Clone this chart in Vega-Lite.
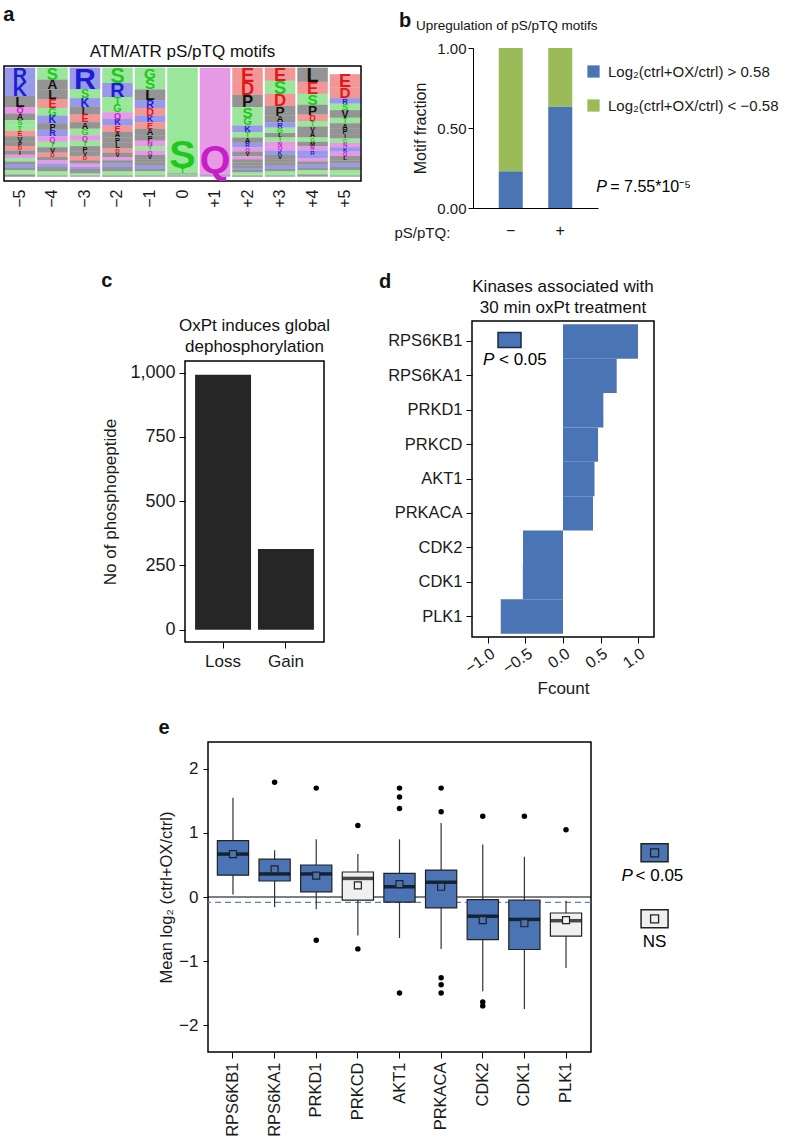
{
"$schema":"https://vega.github.io/schema/vega-lite/v6.json",
"background":"white",
"padding":{"left":3,"top":5,"right":0,"bottom":0},
"config":{
 "font":"Liberation Sans",
 "view":{"stroke":null},
 "axis":{"grid":false,"domainColor":"black","tickColor":"black","labelColor":"#1a1a1a","titleColor":"#1a1a1a","titleFontWeight":"normal","labelFont":"Liberation Sans","titleFont":"Liberation Sans","labelFontSize":16,"titleFontSize":16,"tickSize":6,"labelOverlap":false},
 "title":{"font":"Liberation Sans","subtitleFont":"Liberation Sans","color":"#111","subtitleColor":"#111"},
 "legend":{"labelFont":"Liberation Sans","labelColor":"#1a1a1a","padding":0}
},
"datasets":{
 "logo":[
{"pos":"−5","aa":"R","h":13,"r":1},{"pos":"−5","aa":"K","h":13,"r":2},{"pos":"−5","aa":"L","h":10,"r":3},{"pos":"−5","aa":"Q","h":6,"r":4},{"pos":"−5","aa":"A","h":6,"r":5},{"pos":"−5","aa":"S","h":5,"r":6},{"pos":"−5","aa":"T","h":5,"r":7},{"pos":"−5","aa":"E","h":5,"r":8},{"pos":"−5","aa":"V","h":5,"r":9},{"pos":"−5","aa":"P","h":4,"r":10},{"pos":"−5","aa":"D","h":4,"r":11},{"pos":"−5","aa":"I","h":4,"r":12},{"pos":"−5","aa":"N","h":3,"r":13},{"pos":"−5","aa":"G","h":3,"r":14},{"pos":"−5","aa":"M","h":3,"r":15},{"pos":"−5","aa":"H","h":3,"r":16},{"pos":"−5","aa":"F","h":2,"r":17},{"pos":"−5","aa":"Y","h":2,"r":18},{"pos":"−5","aa":"C","h":2,"r":19},{"pos":"−5","aa":"W","h":2,"r":20},
{"pos":"−4","aa":"S","h":11,"r":1},{"pos":"−4","aa":"A","h":9,"r":2},{"pos":"−4","aa":"L","h":9,"r":3},{"pos":"−4","aa":"E","h":8,"r":4},{"pos":"−4","aa":"G","h":7,"r":5},{"pos":"−4","aa":"K","h":7,"r":6},{"pos":"−4","aa":"P","h":6,"r":7},{"pos":"−4","aa":"R","h":6,"r":8},{"pos":"−4","aa":"Q","h":5,"r":9},{"pos":"−4","aa":"T","h":5,"r":10},{"pos":"−4","aa":"V","h":5,"r":11},{"pos":"−4","aa":"D","h":4,"r":12},{"pos":"−4","aa":"I","h":3,"r":13},{"pos":"−4","aa":"N","h":3,"r":14},{"pos":"−4","aa":"H","h":3,"r":15},{"pos":"−4","aa":"F","h":2,"r":16},{"pos":"−4","aa":"M","h":2,"r":17},{"pos":"−4","aa":"Y","h":2,"r":18},{"pos":"−4","aa":"C","h":2,"r":19},{"pos":"−4","aa":"W","h":1,"r":20},
{"pos":"−3","aa":"R","h":20,"r":1},{"pos":"−3","aa":"S","h":8,"r":2},{"pos":"−3","aa":"K","h":8,"r":3},{"pos":"−3","aa":"L","h":7,"r":4},{"pos":"−3","aa":"E","h":7,"r":5},{"pos":"−3","aa":"A","h":6,"r":6},{"pos":"−3","aa":"G","h":6,"r":7},{"pos":"−3","aa":"Q","h":5,"r":8},{"pos":"−3","aa":"T","h":5,"r":9},{"pos":"−3","aa":"P","h":5,"r":10},{"pos":"−3","aa":"V","h":4,"r":11},{"pos":"−3","aa":"D","h":4,"r":12},{"pos":"−3","aa":"I","h":3,"r":13},{"pos":"−3","aa":"N","h":3,"r":14},{"pos":"−3","aa":"H","h":2,"r":15},{"pos":"−3","aa":"M","h":2,"r":16},{"pos":"−3","aa":"F","h":2,"r":17},{"pos":"−3","aa":"Y","h":1,"r":18},{"pos":"−3","aa":"C","h":1,"r":19},{"pos":"−3","aa":"W","h":1,"r":20},
{"pos":"−2","aa":"S","h":14,"r":1},{"pos":"−2","aa":"R","h":13,"r":2},{"pos":"−2","aa":"T","h":7,"r":3},{"pos":"−2","aa":"G","h":7,"r":4},{"pos":"−2","aa":"Q","h":6,"r":5},{"pos":"−2","aa":"K","h":6,"r":6},{"pos":"−2","aa":"E","h":6,"r":7},{"pos":"−2","aa":"A","h":5,"r":8},{"pos":"−2","aa":"P","h":5,"r":9},{"pos":"−2","aa":"L","h":5,"r":10},{"pos":"−2","aa":"D","h":4,"r":11},{"pos":"−2","aa":"V","h":4,"r":12},{"pos":"−2","aa":"N","h":3,"r":13},{"pos":"−2","aa":"I","h":3,"r":14},{"pos":"−2","aa":"H","h":3,"r":15},{"pos":"−2","aa":"M","h":2,"r":16},{"pos":"−2","aa":"F","h":2,"r":17},{"pos":"−2","aa":"Y","h":2,"r":18},{"pos":"−2","aa":"C","h":2,"r":19},{"pos":"−2","aa":"W","h":1,"r":20},
{"pos":"−1","aa":"G","h":10,"r":1},{"pos":"−1","aa":"S","h":10,"r":2},{"pos":"−1","aa":"L","h":10,"r":3},{"pos":"−1","aa":"R","h":7,"r":4},{"pos":"−1","aa":"D","h":7,"r":5},{"pos":"−1","aa":"K","h":6,"r":6},{"pos":"−1","aa":"E","h":6,"r":7},{"pos":"−1","aa":"A","h":6,"r":8},{"pos":"−1","aa":"P","h":5,"r":9},{"pos":"−1","aa":"N","h":5,"r":10},{"pos":"−1","aa":"T","h":4,"r":11},{"pos":"−1","aa":"Q","h":4,"r":12},{"pos":"−1","aa":"V","h":4,"r":13},{"pos":"−1","aa":"I","h":3,"r":14},{"pos":"−1","aa":"M","h":3,"r":15},{"pos":"−1","aa":"H","h":3,"r":16},{"pos":"−1","aa":"F","h":2,"r":17},{"pos":"−1","aa":"Y","h":2,"r":18},{"pos":"−1","aa":"C","h":2,"r":19},{"pos":"−1","aa":"W","h":1,"r":20},
{"pos":"0","aa":"S","h":92,"r":1},{"pos":"0","aa":"T","h":5,"r":2},{"pos":"0","aa":"A","h":1,"r":3},{"pos":"0","aa":"G","h":1,"r":4},{"pos":"0","aa":"P","h":1,"r":5},
{"pos":"+1","aa":"Q","h":97,"r":1},{"pos":"+1","aa":"E","h":1,"r":2},{"pos":"+1","aa":"H","h":1,"r":3},{"pos":"+1","aa":"K","h":1,"r":4},
{"pos":"+2","aa":"E","h":13,"r":1},{"pos":"+2","aa":"D","h":12,"r":2},{"pos":"+2","aa":"P","h":11,"r":3},{"pos":"+2","aa":"S","h":10,"r":4},{"pos":"+2","aa":"G","h":7,"r":5},{"pos":"+2","aa":"K","h":6,"r":6},{"pos":"+2","aa":"T","h":5,"r":7},{"pos":"+2","aa":"A","h":5,"r":8},{"pos":"+2","aa":"R","h":4,"r":9},{"pos":"+2","aa":"Q","h":4,"r":10},{"pos":"+2","aa":"V","h":4,"r":11},{"pos":"+2","aa":"N","h":3,"r":12},{"pos":"+2","aa":"L","h":3,"r":13},{"pos":"+2","aa":"I","h":3,"r":14},{"pos":"+2","aa":"M","h":2,"r":15},{"pos":"+2","aa":"H","h":2,"r":16},{"pos":"+2","aa":"F","h":2,"r":17},{"pos":"+2","aa":"Y","h":2,"r":18},{"pos":"+2","aa":"C","h":1,"r":19},{"pos":"+2","aa":"W","h":1,"r":20},
{"pos":"+3","aa":"E","h":12,"r":1},{"pos":"+3","aa":"S","h":12,"r":2},{"pos":"+3","aa":"D","h":11,"r":3},{"pos":"+3","aa":"P","h":9,"r":4},{"pos":"+3","aa":"A","h":6,"r":5},{"pos":"+3","aa":"R","h":5,"r":6},{"pos":"+3","aa":"G","h":5,"r":7},{"pos":"+3","aa":"L","h":4,"r":8},{"pos":"+3","aa":"T","h":4,"r":9},{"pos":"+3","aa":"N","h":4,"r":10},{"pos":"+3","aa":"Q","h":4,"r":11},{"pos":"+3","aa":"K","h":4,"r":12},{"pos":"+3","aa":"V","h":4,"r":13},{"pos":"+3","aa":"I","h":3,"r":14},{"pos":"+3","aa":"M","h":3,"r":15},{"pos":"+3","aa":"H","h":3,"r":16},{"pos":"+3","aa":"F","h":2,"r":17},{"pos":"+3","aa":"Y","h":2,"r":18},{"pos":"+3","aa":"C","h":2,"r":19},{"pos":"+3","aa":"W","h":1,"r":20},
{"pos":"+4","aa":"L","h":13,"r":1},{"pos":"+4","aa":"E","h":11,"r":2},{"pos":"+4","aa":"S","h":10,"r":3},{"pos":"+4","aa":"P","h":9,"r":4},{"pos":"+4","aa":"D","h":6,"r":5},{"pos":"+4","aa":"T","h":5,"r":6},{"pos":"+4","aa":"V","h":5,"r":7},{"pos":"+4","aa":"A","h":5,"r":8},{"pos":"+4","aa":"G","h":4,"r":9},{"pos":"+4","aa":"M","h":4,"r":10},{"pos":"+4","aa":"N","h":4,"r":11},{"pos":"+4","aa":"R","h":4,"r":12},{"pos":"+4","aa":"K","h":3,"r":13},{"pos":"+4","aa":"Q","h":3,"r":14},{"pos":"+4","aa":"I","h":3,"r":15},{"pos":"+4","aa":"H","h":3,"r":16},{"pos":"+4","aa":"F","h":2,"r":17},{"pos":"+4","aa":"Y","h":2,"r":18},{"pos":"+4","aa":"C","h":2,"r":19},{"pos":"+4","aa":"W","h":2,"r":20},
{"pos":"+5","aa":"E","h":12,"r":1},{"pos":"+5","aa":"D","h":10,"r":2},{"pos":"+5","aa":"R","h":5,"r":3},{"pos":"+5","aa":"S","h":6,"r":4},{"pos":"+5","aa":"V","h":7,"r":5},{"pos":"+5","aa":"T","h":5,"r":6},{"pos":"+5","aa":"A","h":5,"r":7},{"pos":"+5","aa":"P","h":5,"r":8},{"pos":"+5","aa":"I","h":4,"r":9},{"pos":"+5","aa":"G","h":4,"r":10},{"pos":"+5","aa":"N","h":4,"r":11},{"pos":"+5","aa":"K","h":4,"r":12},{"pos":"+5","aa":"Q","h":4,"r":13},{"pos":"+5","aa":"L","h":4,"r":14},{"pos":"+5","aa":"M","h":3,"r":15},{"pos":"+5","aa":"H","h":3,"r":16},{"pos":"+5","aa":"F","h":3,"r":17},{"pos":"+5","aa":"Y","h":3,"r":18},{"pos":"+5","aa":"C","h":2,"r":19},{"pos":"+5","aa":"W","h":1,"r":20}
 ],
 "frac":[
  {"tq":"−","grp":"Log₂(ctrl+OX/ctrl) > 0.58","frac":0.23,"k":1},
  {"tq":"−","grp":"Log₂(ctrl+OX/ctrl) < −0.58","frac":0.77,"k":2},
  {"tq":"+","grp":"Log₂(ctrl+OX/ctrl) > 0.58","frac":0.635,"k":1},
  {"tq":"+","grp":"Log₂(ctrl+OX/ctrl) < −0.58","frac":0.365,"k":2}
 ],
 "counts":[{"cat":"Loss","n":992},{"cat":"Gain","n":314}],
 "fcount":[
  {"kinase":"RPS6KB1","f":1.0},{"kinase":"RPS6KA1","f":0.716},{"kinase":"PRKD1","f":0.538},
  {"kinase":"PRKCD","f":0.467},{"kinase":"AKT1","f":0.42},{"kinase":"PRKACA","f":0.40},
  {"kinase":"CDK2","f":-0.533},{"kinase":"CDK1","f":-0.535},{"kinase":"PLK1","f":-0.83}
 ],
 "boxes":[
  {"kinase":"RPS6KB1","lo":0.04,"q1":0.34,"med":0.67,"q3":0.88,"hi":1.55,"mean":0.67,"sig":"P"},
  {"kinase":"RPS6KA1","lo":-0.16,"q1":0.25,"med":0.36,"q3":0.59,"hi":0.73,"mean":0.43,"sig":"P"},
  {"kinase":"PRKD1","lo":-0.19,"q1":0.08,"med":0.36,"q3":0.50,"hi":0.90,"mean":0.335,"sig":"P"},
  {"kinase":"PRKCD","lo":-0.60,"q1":-0.05,"med":0.29,"q3":0.39,"hi":0.67,"mean":0.18,"sig":"NS"},
  {"kinase":"AKT1","lo":-0.64,"q1":-0.08,"med":0.16,"q3":0.37,"hi":0.90,"mean":0.20,"sig":"P"},
  {"kinase":"PRKACA","lo":-0.81,"q1":-0.17,"med":0.23,"q3":0.42,"hi":1.155,"mean":0.16,"sig":"P"},
  {"kinase":"CDK2","lo":-1.47,"q1":-0.665,"med":-0.30,"q3":-0.04,"hi":0.82,"mean":-0.36,"sig":"P"},
  {"kinase":"CDK1","lo":-1.75,"q1":-0.82,"med":-0.35,"q3":-0.05,"hi":0.63,"mean":-0.41,"sig":"P"},
  {"kinase":"PLK1","lo":-1.11,"q1":-0.61,"med":-0.37,"q3":-0.25,"hi":-0.06,"mean":-0.36,"sig":"NS"}
 ],
 "outl":[
  {"kinase":"RPS6KA1","v":1.79},{"kinase":"PRKD1","v":1.70},{"kinase":"PRKD1","v":-0.675},
  {"kinase":"PRKCD","v":1.115},{"kinase":"PRKCD","v":-0.81},
  {"kinase":"AKT1","v":1.70},{"kinase":"AKT1","v":1.56},{"kinase":"AKT1","v":1.38},{"kinase":"AKT1","v":-1.50},
  {"kinase":"PRKACA","v":1.70},{"kinase":"PRKACA","v":1.33},{"kinase":"PRKACA","v":-1.26},{"kinase":"PRKACA","v":-1.37},{"kinase":"PRKACA","v":-1.50},
  {"kinase":"CDK2","v":1.26},{"kinase":"CDK2","v":-1.64},{"kinase":"CDK2","v":-1.70},
  {"kinase":"CDK1","v":1.26},{"kinase":"PLK1","v":1.05}
 ],
 "leg":[
  {"lx":1.166,"ly":0.69,"sig":"P"},{"lx":1.166,"ly":-0.34,"sig":"NS"}
 ]
},
"spacing":20,
"resolve":{"scale":{"color":"independent","fill":"independent","size":"independent"}},
"vconcat":[
 {"spacing":32,
  "resolve":{"scale":{"color":"independent","fill":"independent","size":"independent"}},
  "hconcat":[
  {"title":{"text":"a","anchor":"start","frame":"bounds","fontSize":20,"fontWeight":"bold","offset":18},
   "spacing":0,
   "vconcat":[
    {"title":{"text":"ATM/ATR pS/pTQ motifs","fontSize":17,"fontWeight":"normal","frame":"group","anchor":"middle","offset":-13},
     "width":357,"height":16,"data":{"values":[]},"mark":"point"},
    {"width":357,"height":115,
    "view":{"stroke":"black","strokeWidth":1.5},
    "data":{"name":"logo"},
    "transform":[{"stack":"h","groupby":["pos"],"sort":[{"field":"r","order":"descending"}],"as":["y0","y1"]}],
    "encoding":{"x":{"field":"pos","type":"nominal","sort":null,"scale":{"domain":["−5","−4","−3","−2","−1","0","+1","+2","+3","+4","+5"],"paddingInner":0.06,"paddingOuter":0.02},"axis":{"title":null,"labelAngle":270,"ticks":false,"domain":false,"labelPadding":8,"labelFontSize":16}}},
    "layer":[
     {"mark":{"type":"bar","opacity":0.45},"encoding":{
       "y":{"field":"y0","type":"quantitative","scale":{"domain":[-4,101.5],"nice":false,"zero":false},"axis":null},
       "y2":{"field":"y1"},
       "color":{"field":"aa","type":"nominal","scale":{"domain":["R","K","H","S","T","G","Y","C","E","D","Q","N","A","V","L","I","P","W","F","M"],"range":["#1c1cd0","#1c1cd0","#1c1cd0","#1ec81e","#1ec81e","#1ec81e","#1ec81e","#1ec81e","#e01818","#e01818","#c81ec8","#c81ec8","#111111","#111111","#111111","#111111","#111111","#111111","#111111","#111111"]},"legend":null}}},
     {"transform":[{"filter":"datum.h >= 4"}],"mark":{"type":"text","baseline":"alphabetic","align":"center","fontWeight":"bold"},"encoding":{
       "y":{"field":"y0","type":"quantitative"},
       "text":{"field":"aa"},
       "color":{"field":"aa","type":"nominal","legend":null},
       "size":{"field":"h","type":"quantitative","scale":{"domain":[0,26],"range":[0,39.5],"clamp":true},"legend":null}}}
    ]},
    {"width":357,"height":43,"data":{"values":[]},"mark":"point"}
   ]
  },
  {"title":{"text":"b","anchor":"start","frame":"bounds","fontSize":20,"fontWeight":"bold","offset":-12,"dx":5},
   "vconcat":[{
   "title":{"text":"Upregulation of pS/pTQ motifs","anchor":"start","frame":"bounds","fontSize":13.5,"fontWeight":"normal","dx":22,"offset":9},
   "width":125,"height":160,
   "layer":[
    {"data":{"name":"frac"},"mark":{"type":"bar"},"encoding":{
      "x":{"field":"tq","type":"nominal","sort":["−","+"],"scale":{"domain":["−","+"],"paddingInner":0.515,"paddingOuter":0.52},"axis":{"title":"pS/pTQ:","titleX":-79,"titleY":24,"titleAlign":"left","titleBaseline":"middle","titleAngle":0,"titleFontSize":15,"labelAngle":0,"ticks":false,"labelPadding":14,"labelFontSize":16}},
      "y":{"field":"frac","type":"quantitative","stack":"zero","scale":{"domain":[0,1],"nice":false},"axis":{"values":[0,0.25,0.5,0.75,1],"format":".2f","title":"Motif fraction","labelFontSize":15,"titleFontSize":16,"titlePadding":8,"tickSize":5}},
      "color":{"field":"grp","type":"nominal","scale":{"domain":["Log₂(ctrl+OX/ctrl) > 0.58","Log₂(ctrl+OX/ctrl) < −0.58"],"range":["#4a74b4","#9bbb59"]},"legend":{"orient":"none","legendX":113,"legendY":16,"title":null,"symbolType":"square","symbolSize":150,"symbolStrokeWidth":0,"labelFontSize":15,"rowPadding":18,"labelOffset":7,"labelLimit":300}},
      "order":{"field":"k","type":"quantitative","sort":"ascending"}}},
    {"data":{"values":[{"tq":"+","v":0.13}]},"mark":{"type":"text","text":"P","fontStyle":"italic","fontSize":16,"align":"left","dx":36},"encoding":{"x":{"field":"tq","type":"nominal"},"y":{"field":"v","type":"quantitative"}}},
    {"data":{"values":[{"tq":"+","v":0.13}]},"mark":{"type":"text","text":"= 7.55*10⁻⁵","fontSize":16,"align":"left","dx":50},"encoding":{"x":{"field":"tq","type":"nominal"},"y":{"field":"v","type":"quantitative"}}}
   ]
   }]
  }
 ]},
 {"spacing":47,"hconcat":[
  {"width":50,"height":1,"data":{"values":[]},"mark":"point"},
  {"title":{"text":"c","anchor":"start","frame":"bounds","fontSize":20,"fontWeight":"bold","offset":26},
   "spacing":0,
   "vconcat":[
    {"title":{"text":["OxPt induces global","dephosphorylation"],"fontSize":17,"fontWeight":"normal","frame":"group","anchor":"middle","offset":-35,"lineHeight":21},
     "width":139,"height":39,"data":{"values":[]},"mark":"point"},
    {"width":139,"height":281,
    "view":{"stroke":"black","strokeWidth":1.5},
    "data":{"name":"counts"},
    "mark":{"type":"bar","color":"#262626"},
    "encoding":{
     "x":{"field":"cat","type":"nominal","sort":["Loss","Gain"],"scale":{"paddingInner":0.11,"paddingOuter":0.16},"axis":{"title":null,"labelAngle":0,"domain":false,"labelFontSize":17,"tickSize":6,"labelPadding":5}},
     "y":{"field":"n","type":"quantitative","scale":{"domain":[-48,1045],"nice":false,"zero":false},"axis":{"values":[0,250,500,750,1000],"format":",.0f","title":"No of phosphopeptide","domain":false,"labelFontSize":18,"titleFontSize":17,"titlePadding":10,"labelPadding":4}},
     "y2":{"datum":0}
    }}
   ]
  },
  {"title":{"text":"d","anchor":"start","frame":"bounds","fontSize":20,"fontWeight":"bold","offset":-15,"dx":-8},
   "vconcat":[{
    "title":{"text":["Kinases associated with","30 min oxPt treatment"],"fontSize":17,"fontWeight":"normal","frame":"group","anchor":"middle","offset":4,"lineHeight":21},
    "width":182,"height":316,
    "view":{"stroke":"black","strokeWidth":1.5},
    "layer":[
     {"data":{"name":"fcount"},"mark":{"type":"bar","color":"#4a74b4"},"encoding":{
       "y":{"field":"kinase","type":"nominal","sort":null,"scale":{"domain":["RPS6KB1","RPS6KA1","PRKD1","PRKCD","AKT1","PRKACA","CDK2","CDK1","PLK1"],"paddingInner":0,"paddingOuter":0.095},"axis":{"title":null,"domain":false,"labelFontSize":16.5,"labelPadding":4}},
       "x":{"field":"f","type":"quantitative","scale":{"domain":[-1.213,1.213],"nice":false,"zero":false},"axis":{"values":[-1,-0.5,0,0.5,1],"format":".1f","title":"Fcount","labelAngle":325,"domain":false,"labelFontSize":16,"titleFontSize":17}},
       "x2":{"datum":0}}},
     {"data":{"values":[{"kinase":"RPS6KB1","f":-0.713}]},"mark":{"type":"point","shape":"M-1,-0.652L1,-0.652L1,0.652L-1,0.652Z","size":529,"filled":true,"fill":"#4a74b4","stroke":"#1a2a44","strokeWidth":1.5,"opacity":1,"yOffset":-1.5},"encoding":{"x":{"field":"f","type":"quantitative"},"y":{"field":"kinase","type":"nominal"}}},
     {"data":{"values":[{"kinase":"RPS6KB1","f":-1.067}]},"mark":{"type":"text","text":"P","fontStyle":"italic","fontSize":17,"align":"left","dy":19},"encoding":{"x":{"field":"f","type":"quantitative"},"y":{"field":"kinase","type":"nominal"}}},
     {"data":{"values":[{"kinase":"RPS6KB1","f":-0.853}]},"mark":{"type":"text","text":"< 0.05","fontSize":17,"align":"left","dy":19},"encoding":{"x":{"field":"f","type":"quantitative"},"y":{"field":"kinase","type":"nominal"}}}
    ]
   }]
  }
 ]},
 {"spacing":0,"hconcat":[
  {"width":153,"height":1,"data":{"values":[]},"mark":"point"},
  {"title":{"text":"e","anchor":"start","frame":"bounds","fontSize":20,"fontWeight":"bold","offset":4},
   "width":383,"height":310,
   "view":{"stroke":"black","strokeWidth":1.5},
   "resolve":{"scale":{"x":"independent"}},
   "layer":[
    {"layer":[
     {"data":{"values":[{}]},"mark":{"type":"rule","color":"black","strokeWidth":1.2},"encoding":{"y":{"datum":0,"type":"quantitative","scale":{"domain":[-2.42,2.42],"nice":false,"zero":false},"axis":{"values":[-2,-1,0,1,2],"format":"d","title":"Mean log₂ (ctrl+OX/ctrl)","domain":false,"labelFontSize":17,"titleFontSize":16.5,"tickSize":5,"labelPadding":5}}}},
     {"data":{"values":[{}]},"mark":{"type":"rule","color":"#5b7fc0","strokeWidth":1.3,"strokeDash":[6,4]},"encoding":{"y":{"datum":-0.085,"type":"quantitative"}}},
     {"data":{"name":"boxes"},"mark":{"type":"rule","color":"#333","strokeWidth":1.2},"encoding":{
       "x":{"field":"kinase","type":"nominal","sort":null,"scale":{"domain":["RPS6KB1","RPS6KA1","PRKD1","PRKCD","AKT1","PRKACA","CDK2","CDK1","PLK1"],"paddingInner":0.25,"paddingOuter":0.225},"axis":{"title":null,"labelAngle":270,"domain":false,"tickSize":6,"labelFontSize":16.5,"labelPadding":4}},
       "y":{"field":"lo","type":"quantitative"},"y2":{"field":"hi"}}},
     {"data":{"name":"boxes"},"mark":{"type":"bar","stroke":"#222","strokeWidth":1.2},"encoding":{
       "x":{"field":"kinase","type":"nominal"},
       "y":{"field":"q1","type":"quantitative"},"y2":{"field":"q3"},
       "fill":{"field":"sig","type":"nominal","scale":{"domain":["P","NS"],"range":["#4a74b4","#f0f0f0"]},"legend":null}}},
     {"data":{"name":"boxes"},"mark":{"type":"tick","color":"black","thickness":3.5,"size":31},"encoding":{
       "x":{"field":"kinase","type":"nominal"},"y":{"field":"med","type":"quantitative"}}},
     {"data":{"name":"boxes"},"mark":{"type":"point","shape":"square","filled":true,"size":49,"stroke":"#222","strokeWidth":1.2,"opacity":1},"encoding":{
       "x":{"field":"kinase","type":"nominal"},"y":{"field":"mean","type":"quantitative"},
       "fill":{"field":"sig","type":"nominal","legend":null}}},
     {"data":{"name":"outl"},"mark":{"type":"circle","color":"black","size":30,"opacity":1},"encoding":{
       "x":{"field":"kinase","type":"nominal"},"y":{"field":"v","type":"quantitative"}}}
    ]},
    {"data":{"name":"leg"},"layer":[
     {"mark":{"type":"point","shape":"M-1,-0.667L1,-0.667L1,0.667L-1,0.667Z","size":729,"filled":true,"stroke":"#222","strokeWidth":1.5,"opacity":1},"encoding":{
       "x":{"field":"lx","type":"quantitative","scale":{"domain":[0,1],"nice":false,"zero":false},"axis":null},
       "y":{"field":"ly","type":"quantitative"},
       "fill":{"field":"sig","type":"nominal","scale":{"domain":["P","NS"],"range":["#4a74b4","#f0f0f0"]},"legend":null}}},
     {"mark":{"type":"point","shape":"square","filled":true,"size":64,"stroke":"#222","strokeWidth":1.3,"opacity":1},"encoding":{
       "x":{"field":"lx","type":"quantitative"},
       "y":{"field":"ly","type":"quantitative"},
       "fill":{"field":"sig","type":"nominal","legend":null}}},
     {"transform":[{"filter":"datum.sig == 'P'"}],"mark":{"type":"text","text":"P","fontStyle":"italic","fontSize":17,"align":"left","dx":-33,"dy":23},"encoding":{
       "x":{"field":"lx","type":"quantitative"},"y":{"field":"ly","type":"quantitative"}}},
     {"transform":[{"filter":"datum.sig == 'P'"}],"mark":{"type":"text","text":"< 0.05","fontSize":17,"align":"left","dx":-19,"dy":23},"encoding":{
       "x":{"field":"lx","type":"quantitative"},"y":{"field":"ly","type":"quantitative"}}},
     {"transform":[{"filter":"datum.sig == 'NS'"}],"mark":{"type":"text","text":"NS","fontSize":17,"align":"center","dy":23},"encoding":{
       "x":{"field":"lx","type":"quantitative"},"y":{"field":"ly","type":"quantitative"}}}
    ]}
   ]
  }
 ]}
]
}
